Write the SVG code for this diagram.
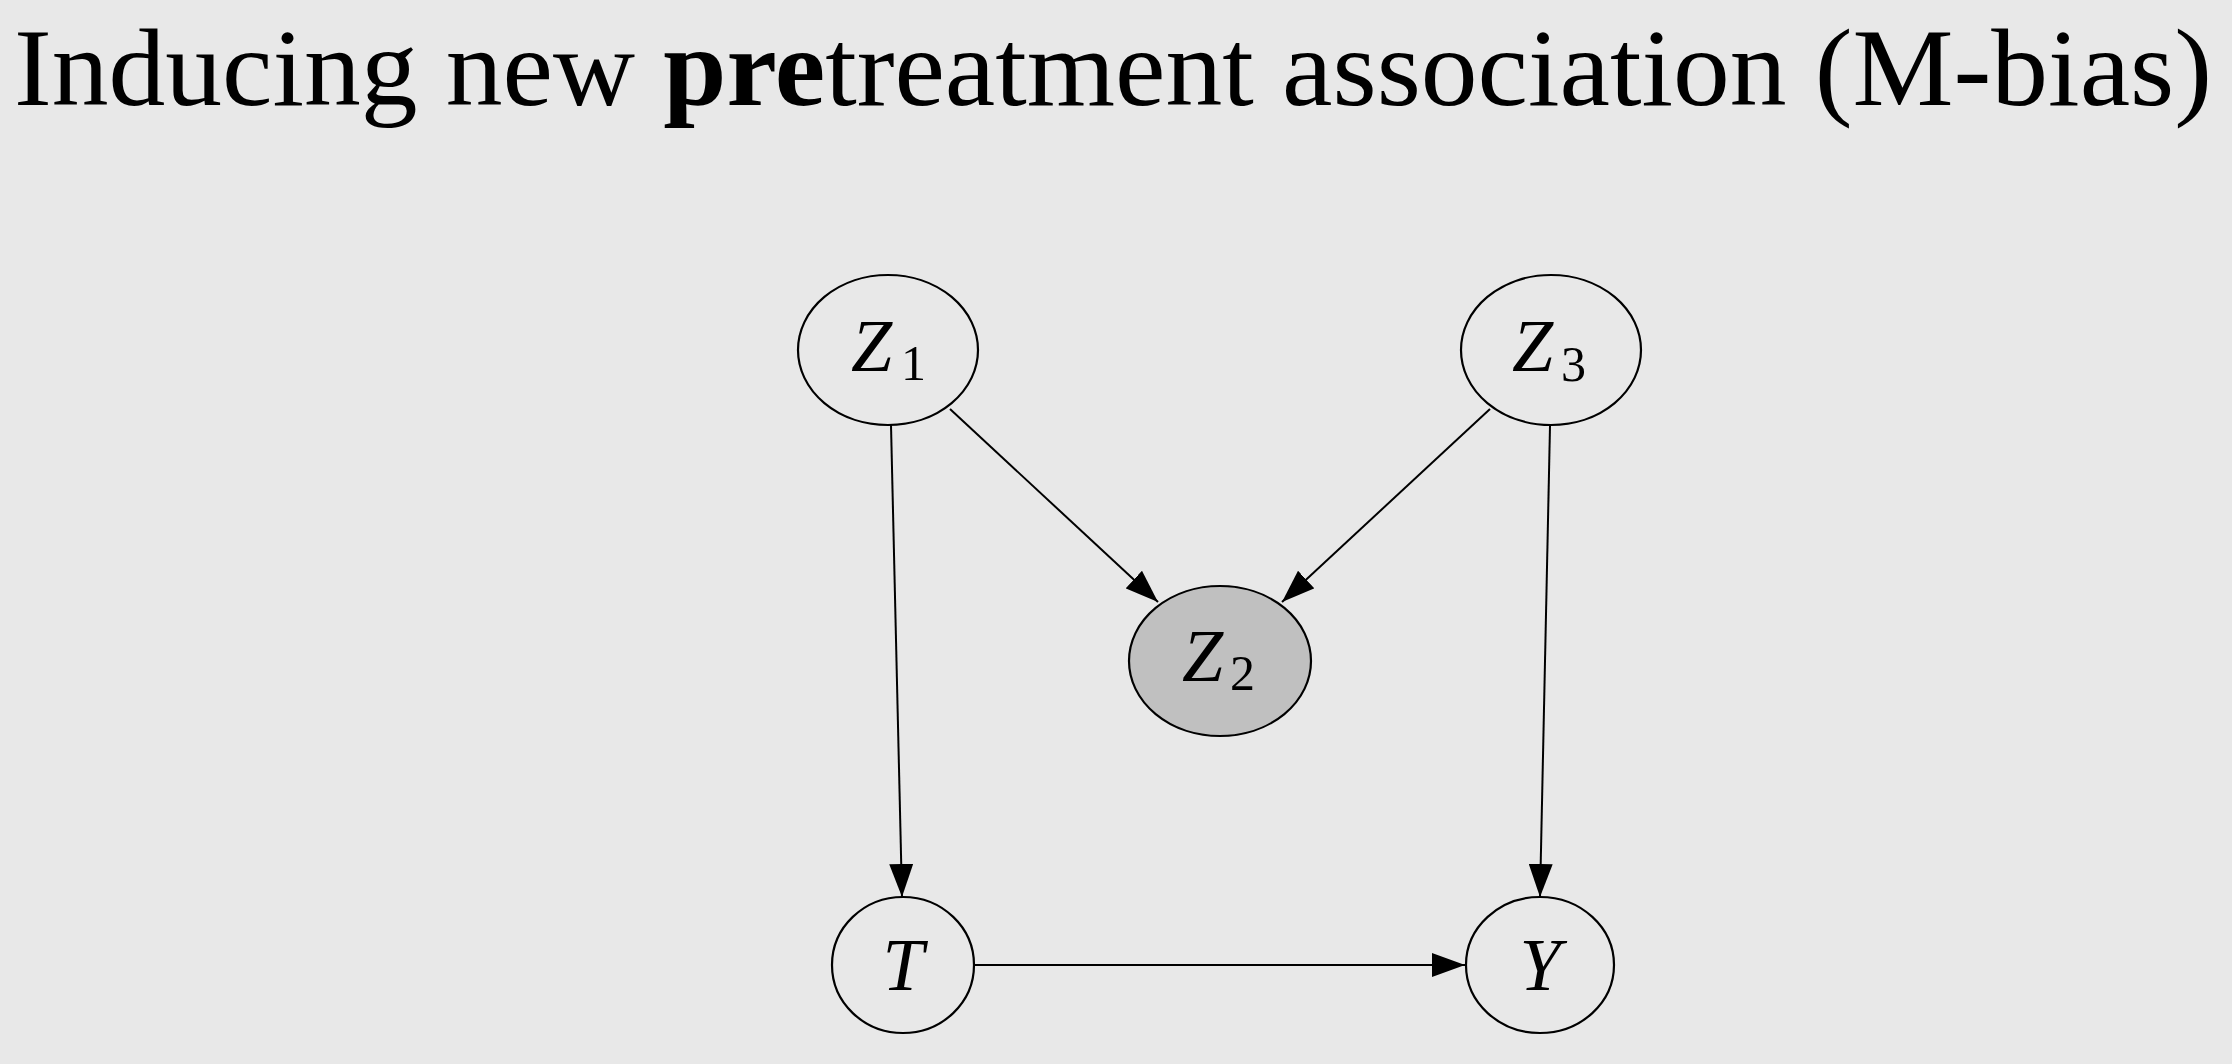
<svg xmlns="http://www.w3.org/2000/svg" width="2232" height="1064" viewBox="0 0 2232 1064">
<style>
.bg{fill:#e8e8e8}
.node{fill:none;stroke:#000;stroke-width:2.2}
.obs{fill:#c0c0c0;stroke:#000;stroke-width:2.2}
.edge{fill:none;stroke:#000;stroke-width:2}
.var{font-family:"Liberation Serif",serif;font-style:italic;font-size:74px;fill:#000}
.sub{font-family:"Liberation Serif",serif;font-size:50px;fill:#000}
.title{font-family:"Liberation Serif",serif;font-size:110px;fill:#000}
</style>
<defs>
<marker id="arr" viewBox="0 0 33 24" refX="33" refY="12" markerWidth="33" markerHeight="24" markerUnits="userSpaceOnUse" orient="auto">
<path d="M0,0 L33,12 L0,24 z" fill="#000"/>
</marker>
</defs>
<rect class="bg" x="0" y="0" width="2232" height="1064"/>
<text class="title" x="14" y="105" textLength="2198" lengthAdjust="spacingAndGlyphs">Inducing new <tspan font-weight="bold">pre</tspan>treatment association (M-bias)</text>
<g id="connectors">
<line class="edge" x1="891" y1="425" x2="902" y2="897" marker-end="url(#arr)"/>
<line class="edge" x1="950" y1="409" x2="1158" y2="602" marker-end="url(#arr)"/>
<line class="edge" x1="1490" y1="409" x2="1282" y2="602" marker-end="url(#arr)"/>
<line class="edge" x1="1550" y1="426" x2="1540" y2="897" marker-end="url(#arr)"/>
<line class="edge" x1="974" y1="965" x2="1465" y2="965" marker-end="url(#arr)"/>
</g>
<g id="Z1">
<ellipse class="node" cx="888" cy="350" rx="90" ry="75"/>
<text class="var" x="851" y="371">Z</text><text class="sub" x="901" y="380">1</text>
</g>
<g id="Z3">
<ellipse class="node" cx="1551" cy="350" rx="90" ry="75"/>
<text class="var" x="1512" y="371">Z</text><text class="sub" x="1561" y="381">3</text>
</g>
<g id="Z2">
<ellipse class="obs" cx="1220" cy="661" rx="91" ry="75"/>
<text class="var" x="1182" y="681">Z</text><text class="sub" x="1230" y="690">2</text>
</g>
<g id="T">
<ellipse class="node" cx="903" cy="965" rx="71" ry="68"/>
<text class="var" x="903" y="990" text-anchor="middle">T</text>
</g>
<g id="Y">
<ellipse class="node" cx="1540" cy="965" rx="74" ry="68"/>
<text class="var" x="1540" y="990" text-anchor="middle">Y</text>
</g>
</svg>
